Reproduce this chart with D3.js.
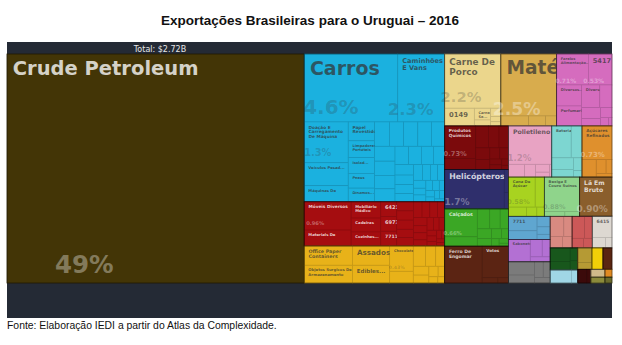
<!DOCTYPE html>
<html>
<head>
<meta charset="utf-8">
<script src="https://cdn.jsdelivr.net/npm/d3@7"></script>
<style>
  html, body { margin: 0; padding: 0; background: #ffffff; }
  svg { display: block; }
</style>
</head>
<body>
<svg id="chart" width="622" height="345"></svg>
<script>
// ---- Texts ----
const titleText = "Exportações Brasileiras para o Uruguai – 2016";
const totalText = "Total: $2.72B";
const sourceText = "Fonte: Elaboração IEDI a partir do Atlas da Complexidade.";

// ---- Product shares (% of total exports), one array per product group ----
const minerais = [["Crude Petroleum", 49.2]];
const veiculos = [
  ["Carros", 4.6], ["Caminhões E Vans", 2.3], ["Doação E Carregamento De Máquina", 1.3],
  ["Veículos Pesad...", 0.73], ["Máquinas De Constr...", 0.51],
  ["Papel Revestido", 0.36], ["Limpadores Portáteis", 0.32], ["Isolad...", 0.3], ["Pneus De...", 0.28], ["Dínamos...", 0.26],
  ["", 0.26], ["", 0.25], ["", 0.25], ["", 0.24], ["", 0.23], ["", 0.22], ["", 0.21], ["", 0.2],
  ["", 0.19], ["", 0.18], ["", 0.17], ["", 0.16], ["", 0.15], ["", 0.14], ["", 0.13], ["", 0.12],
  ["", 0.11], ["", 0.1], ["", 0.09], ["", 0.08], ["", 0.08], ["", 0.07], ["", 0.06], ["", 0.06],
  ["", 0.05], ["", 0.05], ["", 0.04], ["", 0.04], ["", 0.03], ["", 0.03], ["", 0.03], ["", 0.02]
];
const diversos = [
  ["Móveis Diversos", 0.96], ["Materiais De Constr...", 0.54], ["Mobiliário Médico", 0.35],
  ["Cadeiras E...", 0.3], ["Cozinhas...", 0.3], ["6421", 0.17], ["6973", 0.17], ["7711", 0.17],
  ["", 0.11], ["", 0.11], ["", 0.11], ["", 0.1], ["", 0.1], ["", 0.1], ["", 0.09], ["", 0.09],
  ["", 0.08], ["", 0.08], ["", 0.07], ["", 0.07], ["", 0.06], ["", 0.06], ["", 0.05], ["", 0.05],
  ["", 0.04], ["", 0.04], ["", 0.03], ["", 0.03], ["", 0.02], ["", 0.02], ["", 0.02]
];
const alimentos = [
  ["Office Paper Containers", 0.67], ["Objetos Surgicos De Armazenamento", 0.62], ["Assados", 0.52],
  ["Edibles...", 0.48], ["Chocolate", 0.43], ["", 0.2], ["", 0.18], ["", 0.15], ["", 0.13],
  ["", 0.1], ["", 0.09], ["", 0.07], ["", 0.05], ["", 0.04], ["", 0.03]
];
const animais = [["Carne De Porco", 2.2], ["0149", 0.38], ["Carne Se...", 0.14], ["", 0.07], ["", 0.06], ["", 0.04], ["", 0.03]];
const vegetais = [["Maté", 2.5], ["", 0.2], ["", 0.12], ["", 0.08]];
const preparados = [
  ["Farelos Alimentação...", 0.71], ["5417", 0.53], ["Diversos...", 0.38], ["Perfumaria E...", 0.36],
  ["Diversos...", 0.3], ["", 0.2], ["", 0.15], ["", 0.1], ["", 0.08], ["", 0.05], ["", 0.02]
];
const quimicos = [
  ["Produtos Químicos", 0.73], ["", 0.25], ["", 0.2], ["", 0.17], ["", 0.15], ["", 0.12], ["", 0.1],
  ["", 0.08], ["", 0.07], ["", 0.05], ["", 0.04], ["", 0.03], ["", 0.02]
];
const aeronaves = [["Helicópteros", 1.7], ["", 0.07], ["", 0.05]];
const calcados = [
  ["Calçados", 0.66], ["", 0.22], ["", 0.18], ["", 0.15], ["", 0.12], ["", 0.1], ["", 0.08],
  ["", 0.07], ["", 0.05], ["", 0.04], ["", 0.03], ["", 0.02]
];
const metais = [["Ferro De Engomar Fina", 1.0], ["Votos Totais De...", 0.6], ["", 0.06], ["", 0.04]];
const plasticos = [["Polietileno", 1.2], ["", 0.15], ["", 0.1], ["", 0.08], ["", 0.05], ["", 0.02]];
const eletricos = [["Baterias", 0.45], ["", 0.25], ["", 0.18], ["", 0.12], ["", 0.08], ["", 0.04]];
const acucares = [["Açúcares Refinados", 0.73], ["", 0.18], ["", 0.1], ["", 0.06], ["", 0.04]];
const cana = [["Cana De Açúcar", 0.58], ["", 0.2], ["", 0.12], ["", 0.07], ["", 0.05]];
const couros = [["Bexiga E Couro Suínos", 0.88], ["", 0.07], ["", 0.05]];
const las = [["Lã Em Bruto", 0.9], ["", 0.02]];
const maquinas = [["7711", 0.3], ["", 0.18], ["", 0.1], ["", 0.07], ["", 0.05]];
const higiene = [["Sabonete...", 0.35], ["", 0.15], ["", 0.1], ["", 0.07]];
const cinzas = [["", 0.25], ["", 0.15], ["", 0.1], ["", 0.08], ["", 0.06]];
const ceramicos = [["", 0.2], ["", 0.12], ["", 0.1], ["", 0.08]];
const tintas = [["", 0.2], ["", 0.12], ["", 0.08], ["", 0.06]];
const pedras = [["6415", 0.3], ["", 0.1], ["", 0.05]];
const madeiras = [["", 0.2], ["", 0.12], ["", 0.07], ["", 0.05]];
const vidros = [["", 0.2], ["", 0.06]];
const instrumentos = [["", 0.15], ["", 0.07]];
const frutas = [["", 0.17]];
const cobre = [["", 0.14]];
const vinhos = [["", 0.09], ["", 0.04]];
const fibras = [["", 0.08]];
const oleos = [["", 0.06]];
const laranjas = [["", 0.04]];
const outros = [["", 0.03]];

// Group fill colours (same order as the list below)
const groups = [
  { items: minerais, color: "#433506" },
  { items: veiculos, color: "#1bb1df" },
  { items: diversos, color: "#a50d10" },
  { items: alimentos, color: "#e8b219" },
  { items: animais, color: "#ebd68c" },
  { items: vegetais, color: "#d8ac4d" },
  { items: preparados, color: "#d56cbe" },
  { items: quimicos, color: "#7b0a0c" },
  { items: aeronaves, color: "#2f2f6c" },
  { items: calcados, color: "#3ba725" },
  { items: metais, color: "#5b2413" },
  { items: plasticos, color: "#e8a3c3" },
  { items: eletricos, color: "#7dd6d1" },
  { items: acucares, color: "#df902d" },
  { items: cana, color: "#a8d320" },
  { items: couros, color: "#8fd48b" },
  { items: las, color: "#8a5e2c" },
  { items: maquinas, color: "#5fa6d0" },
  { items: higiene, color: "#b370d3" },
  { items: cinzas, color: "#7b7b7b" },
  { items: ceramicos, color: "#d98a81" },
  { items: tintas, color: "#cc5858" },
  { items: pedras, color: "#ddd8d1" },
  { items: madeiras, color: "#18571c" },
  { items: vidros, color: "#a0d6e6" },
  { items: instrumentos, color: "#b59a34" },
  { items: frutas, color: "#f1cf08" },
  { items: cobre, color: "#5a2511" },
  { items: vinhos, color: "#3b0a0a" },
  { items: fibras, color: "#cfba8a" },
  { items: oleos, color: "#8b8b3b" },
  { items: laranjas, color: "#e08a22" },
  { items: outros, color: "#6b6b2c" }
];

// Label typography per product: fs = name size, ss = share size, sdx/sdy = share nudges
const labelStyle = {
  "Crude Petroleum": { fs: 19.5, ss: 24.5, sdx: 48 },
  "Carros": { fs: 19, ss: 20, sdx: -1 },
  "Caminhões E Vans": { fs: 6.6, ss: 16.5, sdx: -10, lines: 2 },
  "Carne De Porco": { fs: 8.9, ss: 14.7, sdx: -4, lines: 2 },
  "Maté": { fs: 18.6, ss: 17.2, sdx: -8, sdy: 6, tone: "light" },
  "Doação E Carregamento De Máquina": { fs: 4.3, ss: 9.8, sdx: 0, sdy: -3, lines: 3 },
  "Veículos Pesad...": { fs: 3.8 },
  "Máquinas De Constr...": { fs: 3.8 },
  "Papel Revestido": { fs: 4.3, lines: 2 },
  "Limpadores Portáteis": { fs: 3.6, lines: 2 },
  "Isolad...": { fs: 3.6 },
  "Pneus De...": { fs: 3.6 },
  "Dínamos...": { fs: 3.6 },
  "Móveis Diversos": { fs: 4.3, ss: 5.2, sdx: 2, sdy: -3 },
  "Materiais De Constr...": { fs: 3.8 },
  "Mobiliário Médico": { fs: 3.8, lines: 2 },
  "Cadeiras E...": { fs: 3.8 },
  "Cozinhas...": { fs: 3.8 },
  "6421": { fs: 5 },
  "6973": { fs: 5 },
  "7711": { fs: 4.6 },
  "Office Paper Containers": { fs: 4.8, lines: 2 },
  "Objetos Surgicos De Armazenamento": { fs: 3.8, lines: 2 },
  "Assados": { fs: 7.2 },
  "Edibles...": { fs: 5.5 },
  "Chocolate": { fs: 3.6, ss: 4.6 },
  "0149": { fs: 6.8 },
  "Carne Se...": { fs: 3.5, lines: 2 },
  "Farelos Alimentação...": { fs: 3.6, lines: 2, ss: 6, tone: "light" },
  "5417": { fs: 6.6, ss: 6, sdx: -5, tone: "light" },
  "Diversos...": { fs: 3.8 },
  "Perfumaria E...": { fs: 3.8 },
  "Produtos Químicos": { fs: 4.3, lines: 2, ss: 6.7, sdx: -1 },
  "Helicópteros": { fs: 7.8, ss: 9, sdx: 0 },
  "Polietileno": { fs: 6.2, ss: 8.7, sdx: -1 },
  "Baterias": { fs: 3.8 },
  "Açúcares Refinados": { fs: 4.2, lines: 2, ss: 7, tone: "light" },
  "Cana De Açúcar": { fs: 3.8, lines: 2, ss: 6.5 },
  "Bexiga E Couro Suínos": { fs: 3.8, lines: 2, ss: 6.5 },
  "Lã Em Bruto": { fs: 6.1, lines: 2, ss: 9, sdx: -3, tone: "light" },
  "Calçados": { fs: 4.8, ss: 5.3 },
  "Ferro De Engomar Fina": { fs: 4.6, lines: 2 },
  "Votos Totais De...": { fs: 4 },
  "Sabonete...": { fs: 3.6 },
  "6415": { fs: 4.6 }
};

// ---- Layout ----
const svg = d3.select("#chart");
const panel = { x: 7, y: 42, w: 605, h: 276 };
const headerH = 12;
const mapH = 229;
const lineHeight = 1.12;
const labelFont = "'DejaVu Sans', Verdana, sans-serif";

svg.append("text")
  .attr("x", 310).attr("y", 25)
  .attr("text-anchor", "middle")
  .style("font-family", "'Liberation Sans', Arial, sans-serif")
  .style("font-weight", "bold").style("font-size", "13.5px")
  .attr("fill", "#111")
  .text(titleText);

svg.append("rect")
  .attr("x", panel.x).attr("y", panel.y)
  .attr("width", panel.w).attr("height", panel.h)
  .attr("fill", "#242a35");

svg.append("text")
  .attr("x", 160).attr("y", panel.y + 10.2)
  .attr("text-anchor", "middle")
  .style("font-family", labelFont).style("font-size", "8px")
  .attr("fill", "#e6e6e6")
  .text(totalText);

svg.append("text")
  .attr("x", 7).attr("y", 329)
  .style("font-family", "'Liberation Sans', Arial, sans-serif")
  .style("font-size", "10.4px")
  .attr("fill", "#111")
  .text(sourceText);

const rootData = {
  children: groups.map((g, i) => ({
    group: i, color: g.color,
    children: g.items.map(([name, share]) => ({ name, share, group: i }))
  }))
};

const root = d3.hierarchy(rootData)
  .sum(d => d.children ? 0 : d.share)
  .sort((a, b) => b.value - a.value);

d3.treemap()
  .size([panel.w, mapH])
  .tile(d3.treemapSquarify)
  .round(false)(root);

const map = svg.append("g").attr("transform", `translate(${panel.x},${panel.y + headerH})`);
const defs = svg.append("defs");

const lum = c => { const r = d3.rgb(c); return (0.299 * r.r + 0.587 * r.g + 0.114 * r.b) / 255; };
const fmtShare = d3.format(".2r");

// product cells
map.append("g").selectAll("rect")
  .data(root.leaves())
  .join("rect")
  .attr("x", d => d.x0).attr("y", d => d.y0)
  .attr("width", d => d.x1 - d.x0).attr("height", d => d.y1 - d.y0)
  .attr("fill", d => d.parent.data.color)
  .attr("stroke", d => d3.color(d.parent.data.color).darker(0.45))
  .attr("stroke-width", 0.6);

// group outlines
map.append("g").selectAll("rect")
  .data(root.children)
  .join("rect")
  .attr("x", d => d.x0).attr("y", d => d.y0)
  .attr("width", d => d.x1 - d.x0).attr("height", d => d.y1 - d.y0)
  .attr("fill", "none")
  .attr("stroke", "#000").attr("stroke-opacity", 0.4)
  .attr("stroke-width", 0.9);

// text measuring for wrapping
const ctx = document.createElement("canvas").getContext("2d");
function textWidth(t, fs) {
  ctx.font = `bold ${fs}px 'DejaVu Sans'`;
  return ctx.measureText(t).width;
}
function wrap(name, fs, maxW, maxLines) {
  const words = name.split(" ");
  const lines = [];
  let cur = "";
  for (const w of words) {
    const t = cur ? cur + " " + w : w;
    if (!cur || textWidth(t, fs) <= maxW) cur = t;
    else { lines.push(cur); cur = w; }
  }
  if (cur) lines.push(cur);
  return lines.slice(0, maxLines);
}

const labelled = root.leaves().filter(d => d.data.name && labelStyle[d.data.name]);
const labels = map.append("g");

labelled.forEach((d, i) => {
  const st = labelStyle[d.data.name];
  const bg = d.parent.data.color;
  const dark = lum(bg) < 0.5;
  const w = d.x1 - d.x0;

  const clipId = "clip" + i;
  defs.append("clipPath").attr("id", clipId)
    .append("rect")
    .attr("x", d.x0 + panel.x).attr("y", d.y0 + panel.y + headerH)
    .attr("width", w).attr("height", d.y1 - d.y0);

  const lines = wrap(d.data.name, st.fs, w - 4.5, st.lines || 1);
  const tx = d.x0 + 0.1 * st.fs + 3.8;
  const ty = d.y0 + st.fs * 0.95 + 2.5;
  const t = labels.append("text")
    .attr("clip-path", `url(#${clipId})`)
    .attr("transform", `translate(${-panel.x},${-(panel.y + headerH)})`)
    .style("font-family", labelFont)
    .style("font-weight", "bold")
    .style("font-size", st.fs + "px")
    .attr("fill", dark ? "#ffffff" : "#333333")
    .attr("fill-opacity", dark ? 0.78 : 0.72);
  lines.forEach((ln, k) => {
    t.append("tspan")
      .attr("x", tx + panel.x)
      .attr("y", ty + k * st.fs * lineHeight + panel.y + headerH)
      .text(ln);
  });

  if (st.ss) {
    const light = st.tone ? st.tone === "light" : dark;
    labels.append("text")
      .attr("x", d.x0 + (st.sdx !== undefined ? st.sdx : -0.2 * st.ss))
      .attr("y", d.y1 - 0.4 * st.ss + (st.sdy || 0))
      .style("font-family", labelFont)
      .style("font-weight", "bold")
      .style("font-size", st.ss + "px")
      .attr("fill", light ? "#ffffff" : "#333333")
      .attr("fill-opacity", light ? 0.35 : 0.24)
      .text(fmtShare(d.data.share) + "%");
  }
});
</script>
</body>
</html>
